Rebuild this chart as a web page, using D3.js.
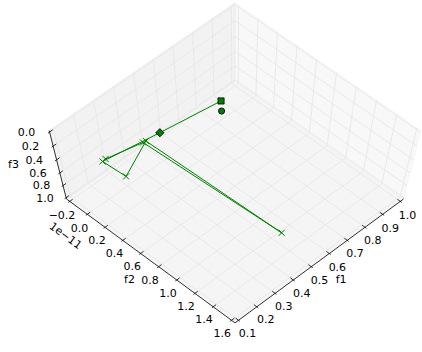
<!DOCTYPE html>
<html><head><meta charset="utf-8">
<script src="https://cdn.jsdelivr.net/npm/d3@7"></script>
<style>body{margin:0;background:#fff}svg{display:block}text{font-family:"DejaVu Sans",sans-serif}</style>
</head><body><svg id="c" width="422" height="352"></svg>
<script>
// ---- data ----
const f1Ticks=[0.1,0.2,0.3,0.4,0.5,0.6,0.7,0.8,0.9,1.0];
const f2Ticks=[-0.2,0.0,0.2,0.4,0.6,0.8,1.0,1.2,1.4,1.6]; // x 1e-11
const f3Ticks=[0.0,0.2,0.4,0.6,0.8,1.0];
const pathF1=[0.823,0.495,0.202,0.301,0.422,0.428,0.407,0.218];
const pathF2=[0.0,0.0,0.0,0.0,0.0,1.432e-11,0.0,0.0];
const pathF3=[0.737,0.582,0.429,0.865,0.5625,0.5,0.555,0.424];
const crossF1=[0.202,0.301,0.422,0.428,0.407,0.218];
const crossF2=[0.0,0.0,0.0,1.432e-11,0.0,0.0];
const crossF3=[0.429,0.865,0.5625,0.5,0.555,0.424];
const startPt=[0.823,0.0,0.737];   // square
const endPt=[0.495,0.0,0.582];     // diamond
const refPt=[0.825,0.0,0.889];     // circle

// ---- projection (matplotlib-like 3D camera) ----
const elev=69, azim=225, dist=10, kx=2400, ky=1829, cx=235, cy=166.4, pad=1/48;
const xs=d3.scaleLinear().domain([0.1,1.0]).range([0,1]);
const ys=d3.scaleLinear().domain([-0.2e-11,1.6e-11]).range([1,0]);
const zs=d3.scaleLinear().domain([0,1]).range([1,0]);
const er=elev*Math.PI/180, ar=azim*Math.PI/180;
const n=[Math.cos(er)*Math.cos(ar),Math.cos(er)*Math.sin(ar),Math.sin(er)];
const eye=n.map(d=>0.5+dist*d);
let u=[-n[1],n[0],0];const ul=Math.hypot(...u);u=u.map(d=>d/ul);
const v=[n[1]*u[2]-n[2]*u[1],n[2]*u[0]-n[0]*u[2],n[0]*u[1]-n[1]*u[0]];
const dot=(a,b)=>a[0]*b[0]+a[1]*b[1]+a[2]*b[2];
function proj(X,Y,Z){const d=[X-eye[0],Y-eye[1],Z-eye[2]];const w=-dot(n,d);return [cx+kx*dot(u,d)/w, cy-ky*dot(v,d)/w];}
const P=(f1,f2,f3)=>proj(xs(f1),ys(f2),zs(f3));

const svg=d3.select("#c");
const lo=-pad, hi=1+pad;
const line=d3.line();
function poly(pts,c){svg.append("path").attr("d",line(pts.map(p=>proj(...p)))+"Z").attr("fill",c).attr("fill-opacity",0.5).attr("stroke",c).attr("stroke-opacity",0.5);}
// panes
poly([[lo,lo,lo],[hi,lo,lo],[hi,hi,lo],[lo,hi,lo]],"rgb(236,236,236)");
poly([[hi,lo,lo],[hi,hi,lo],[hi,hi,hi],[hi,lo,hi]],"rgb(242,242,242)");
poly([[lo,hi,lo],[hi,hi,lo],[hi,hi,hi],[lo,hi,hi]],"rgb(230,230,230)");
// grid
const g=svg.append("g").attr("fill","none").attr("stroke","#e6e6e6").attr("stroke-width",0.9);
f1Ticks.forEach(t=>{const X=xs(t);g.append("path").attr("d",line([[X,lo,lo],[X,hi,lo],[X,hi,hi]].map(p=>proj(...p))));});
f2Ticks.forEach(t=>{const Y=ys(t*1e-11);g.append("path").attr("d",line([[lo,Y,lo],[hi,Y,lo],[hi,Y,hi]].map(p=>proj(...p))));});
f3Ticks.forEach(t=>{const Z=zs(t);g.append("path").attr("d",line([[hi,lo,Z],[hi,hi,Z],[lo,hi,Z]].map(p=>proj(...p))));});

// axes
const ax=svg.append("g").attr("stroke","#000").attr("stroke-width",0.8).attr("fill","none");
const tout=0.1/12*(1+2*pad), tin=0.2/12*(1+2*pad);
ax.append("path").attr("d",line([[lo,lo,lo],[hi,lo,lo]].map(p=>proj(...p))));
ax.append("path").attr("d",line([[lo,lo,lo],[lo,hi,lo]].map(p=>proj(...p))));
ax.append("path").attr("d",line([[lo,hi,lo],[lo,hi,hi]].map(p=>proj(...p))));
const fmt=d3.format(".1f");
const lab=svg.append("g").attr("font-size",11).attr("fill","#000").attr("text-anchor","middle");
function txt(p,s,rot){const t=lab.append("text").attr("x",p[0]).attr("y",p[1]).attr("dy","0.36em").text(s);if(rot)t.attr("transform",`rotate(${rot},${p[0]},${p[1]})`);}
f1Ticks.forEach(t=>{const X=xs(t);
 ax.append("path").attr("d",line([[X,lo-tout,lo],[X,lo+tin,lo]].map(p=>proj(...p))));
 txt(proj(X,lo-0.055,lo-0.12),fmt(t));});
f2Ticks.forEach(t=>{const Y=ys(t*1e-11);
 ax.append("path").attr("d",line([[lo-tout,Y,lo],[lo+tin,Y,lo]].map(p=>proj(...p))));
 txt(proj(lo-0.057,Y,lo-0.115),fmt(t).replace("-","\u2212"));});
f3Ticks.forEach(t=>{const Z=zs(t);
 ax.append("path").attr("d",line([[lo-tout,hi,Z],[lo+tin,hi,Z]].map(p=>proj(...p))));
 txt(proj(lo-0.065,hi+0.065,Z),fmt(t));});
txt(proj(0.5,lo-0.128,lo-0.06),"f1");
txt(proj(lo-0.125,0.5,lo-0.07),"f2");
txt(proj(lo-0.121,hi+0.143,0.5),"f3");
const a0=proj(lo,hi,lo),a1=proj(lo,lo,lo);
const ang=Math.atan2(a1[1]-a0[1],a1[0]-a0[0])*180/Math.PI;
txt(proj(lo-0.13,hi-0.12,lo-0.13),"1e\u221211",ang);

// data
const green="#008000";
const pathPts=pathF1.map((d,i)=>P(d,pathF2[i],pathF3[i]));
svg.append("path").attr("d",line(pathPts)).attr("fill","none").attr("stroke",green).attr("stroke-width",1);
const cr=svg.append("g").attr("stroke",green).attr("stroke-width",1);
crossF1.forEach((d,i)=>{const p=P(d,crossF2[i],crossF3[i]);
 cr.append("path").attr("d",d3.symbol(d3.symbolTimes,26)()).attr("transform",`translate(${p[0]},${p[1]})`).attr("fill","none");});
function mark(pt,type,size,rot){const p=P(...pt);
 svg.append("path").attr("d",d3.symbol(type,size)()).attr("transform",`translate(${p[0]},${p[1]}) rotate(${rot||0})`).attr("fill",green).attr("stroke","#000").attr("stroke-width",0.8);}
mark(startPt,d3.symbolSquare,38);
mark(refPt,d3.symbolCircle,30);
mark(endPt,d3.symbolSquare,34,45);
</script></body></html>
